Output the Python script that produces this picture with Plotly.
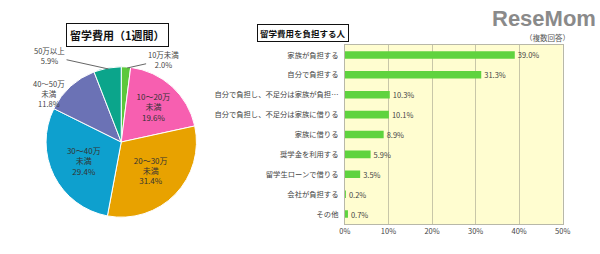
import plotly.graph_objects as go

# Pie data
pie_labels = ["10万未満", "10～20万未満", "20～30万未満", "30～40万未満", "40～50万未満", "50万以上"]
pie_values = [2.0, 19.6, 31.4, 29.4, 11.8, 5.9]
pie_text = ["", "10～20万<br>未満<br>19.6%", "20～30万<br>未満<br>31.4%", "30～40万<br>未満<br>29.4%", "", ""]
pie_colors = ["#5CC83C", "#F75FB0", "#E8A200", "#0EA0CE", "#6B72B5", "#0BA58B"]

# Bar data
bar_cats = ["家族が負担する", "自分で負担する", "自分で負担し、不足分は家族が負担…",
            "自分で負担し、不足分は家族に借りる", "家族に借りる", "奨学金を利用する",
            "留学生ローンで借りる", "会社が負担する", "その他"]
bar_vals = [39.0, 31.3, 10.3, 10.1, 8.9, 5.9, 3.5, 0.2, 0.7]
x_ticks = [0, 10, 20, 30, 40, 50]

FONT = "Noto Sans CJK JP"
W, H = 600, 254

fig = go.Figure()
fig.add_trace(go.Pie(
    labels=pie_labels, values=pie_values, text=pie_text, textinfo="text",
    textposition="inside", insidetextorientation="horizontal",
    sort=False, direction="clockwise", rotation=0,
    marker=dict(colors=pie_colors, line=dict(color="white", width=1)),
    textfont=dict(family=FONT, size=8, color="#333333"),
    domain=dict(x=[41/W, 195/W], y=[1-219/H, 1-65/H]),
    showlegend=False, hoverinfo="label+value",
))
fig.add_trace(go.Bar(
    y=bar_cats, x=bar_vals, orientation="h",
    marker=dict(color="#5FD33F", line=dict(width=0)), width=0.38,
    text=[f"{v:.1f}%" for v in bar_vals], textposition="outside",
    constraintext="none",
    textfont=dict(family=FONT, size=7.5, color="#444444"),
    cliponaxis=False, showlegend=False,
))

fig.update_layout(
    width=W, height=H, margin=dict(l=0, r=0, t=0, b=0),
    paper_bgcolor="white", plot_bgcolor="#FFFDD0",
    font=dict(family=FONT, color="#444444"),
    xaxis=dict(domain=[347/W, 570/W], range=[0, 50], tickvals=x_ticks,
               ticktext=[f"{t}%" for t in x_ticks], showgrid=True,
               gridcolor="#C8C6A8", gridwidth=1, zeroline=False,
               showline=True, linecolor="#B8B8A8", mirror=True,
               tickfont=dict(size=7.5, color="#444444"), ticks=""),
    yaxis=dict(domain=[1-224/H, 1-45/H], autorange="reversed",
               showline=True, linecolor="#B8B8A8", mirror=True,
               tickfont=dict(size=7.3, color="#444444"), ticks="",
               ticklabelstandoff=4),
    bargap=0.6,
)

anns = [
    dict(x=114.5/W, y=1-35/H, text="<b>留学費用（1週間）</b>", font=dict(size=11, color="#111111"),
         bordercolor="#111111", borderwidth=1, borderpad=3, bgcolor="white"),
    dict(x=304.5/W, y=1-33/H, text="<b>留学費用を負担する人</b>", font=dict(size=8.5, color="#111111"),
         bordercolor="#111111", borderwidth=1, borderpad=2, bgcolor="white"),
    dict(x=554/W, y=1-38/H, text="（複数回答）", font=dict(size=7.5, color="#555555")),
    dict(x=551/W, y=1-19/H, text="<b>ReseMom</b>", font=dict(family="Liberation Sans", size=22, color="#8A8A8A")),
    dict(x=44/W, y=1-93/H, text="40～50万<br>未満<br>11.8%", font=dict(size=7.5, color="#444444")),
    dict(x=124/W, y=1-68/H, text="10万未満<br>2.0%", font=dict(size=7.5, color="#444444"),
         showarrow=True, arrowhead=0, arrowwidth=1, arrowcolor="#666666", ax=36, ay=-8),
    dict(x=105/W, y=1-69/H, text="50万以上<br>5.9%", font=dict(size=7.5, color="#444444"),
         showarrow=True, arrowhead=0, arrowwidth=1, arrowcolor="#666666", ax=-59, ay=-13),
]
for a in anns:
    a.setdefault("xref", "paper"); a.setdefault("yref", "paper")
    a.setdefault("showarrow", False)
    a.setdefault("xanchor", "center"); a.setdefault("yanchor", "middle")
    a["font"].setdefault("family", FONT)
fig.update_layout(annotations=anns)

fig.write_html("out.html")
